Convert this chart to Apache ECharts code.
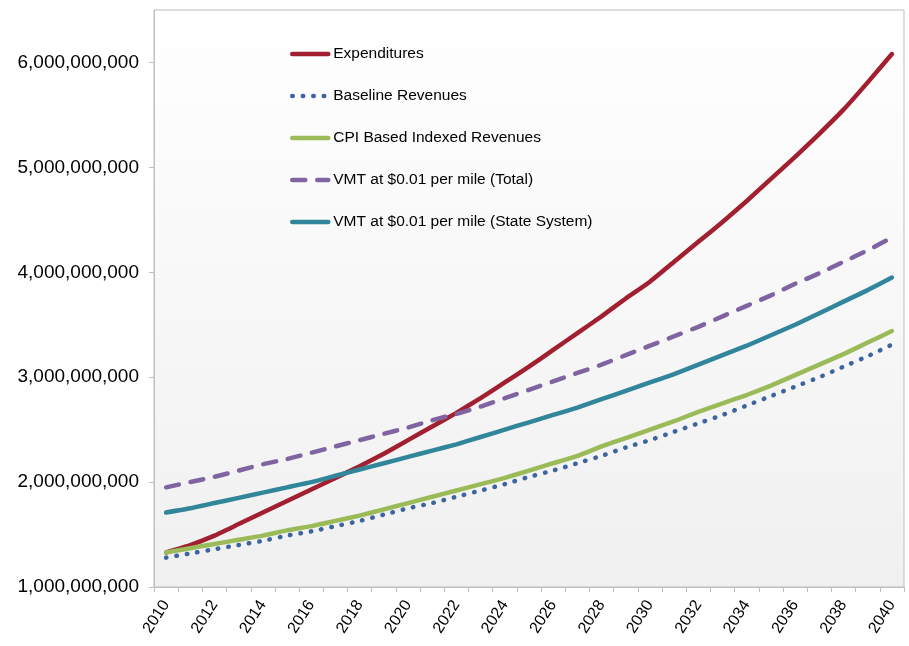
<!DOCTYPE html>
<html>
<head>
<meta charset="utf-8">
<script src="https://cdn.jsdelivr.net/npm/echarts@6/dist/echarts.min.js"></script>
<style>
  html, body { margin: 0; padding: 0; background: #fff; }
  #chart { width: 909px; height: 646px; }
</style>
</head>
<body>
<div id="chart"></div>
<script>
// years on the category axis
var years = [];
for (var y = 2010; y <= 2040; y++) years.push(String(y));

// values in billions of dollars
var expenditures = [1.33, 1.40, 1.49, 1.60, 1.71, 1.82, 1.93, 2.04, 2.15, 2.27, 2.40,
  2.53, 2.66, 2.80, 2.95, 3.10, 3.26, 3.42, 3.58, 3.75, 3.91,
  4.10, 4.29, 4.48, 4.68, 4.89, 5.10, 5.32, 5.55, 5.81, 6.08];
var baselineRevenues = [1.28, 1.32, 1.36, 1.40, 1.44, 1.49, 1.53, 1.58, 1.63, 1.69, 1.75,
  1.80, 1.86, 1.92, 1.98, 2.05, 2.11, 2.18, 2.25, 2.33, 2.40,
  2.48, 2.56, 2.64, 2.73, 2.82, 2.91, 3.00, 3.10, 3.20, 3.31];
var cpiRevenues = [1.33, 1.37, 1.41, 1.45, 1.49, 1.54, 1.58, 1.63, 1.68, 1.74, 1.80,
  1.86, 1.92, 1.98, 2.04, 2.11, 2.18, 2.25, 2.34, 2.42, 2.50,
  2.58, 2.67, 2.75, 2.83, 2.92, 3.02, 3.12, 3.22, 3.33, 3.44];
var vmtTotal = [1.95, 2.00, 2.05, 2.11, 2.17, 2.22, 2.28, 2.34, 2.40, 2.46, 2.52,
  2.59, 2.65, 2.72, 2.80, 2.88, 2.96, 3.04, 3.12, 3.21, 3.30,
  3.39, 3.48, 3.58, 3.68, 3.78, 3.89, 3.99, 4.10, 4.21, 4.33];
var vmtState = [1.71, 1.75, 1.80, 1.85, 1.90, 1.95, 2.00, 2.06, 2.12, 2.18, 2.24,
  2.30, 2.36, 2.43, 2.50, 2.57, 2.64, 2.71, 2.79, 2.87, 2.95,
  3.03, 3.12, 3.21, 3.30, 3.40, 3.50, 3.61, 3.72, 3.83, 3.95];

var chart = echarts.init(document.getElementById('chart'));

function commas(v) {
  return Math.round(v * 1e9).toString().replace(/\B(?=(\d{3})+(?!\d))/g, ',');
}

function line(name, data, color, type) {
  return {
    name: name,
    type: 'line',
    data: data,
    symbol: 'none',
    smooth: 0.15,
    lineStyle: { color: color, width: 4.5, type: type || 'solid', cap: 'round', join: 'round' },
    itemStyle: { color: color }
  };
}

var option = {
  animation: false,
  textStyle: { fontFamily: 'Liberation Sans, Arial, sans-serif' },
  grid: {
    left: 154, right: 5, top: 10, bottom: 59,
    show: true,
    borderColor: '#bfbfbf',
    borderWidth: 1,
    backgroundColor: new echarts.graphic.LinearGradient(0, 0, 0, 1, [
      { offset: 0, color: '#ffffff' },
      { offset: 1, color: '#f0f0f0' }
    ])
  },
  legend: {
    orient: 'vertical',
    left: 290,
    top: 46,
    padding: 0,
    itemWidth: 36,
    itemHeight: 16,
    itemGap: 26,
    itemStyle: { opacity: 0 },
    lineStyle: { width: 4.5, cap: 'round' },
    textStyle: { fontSize: 15.5, color: '#000' },
    data: ['Expenditures', 'Baseline Revenues', 'CPI Based Indexed Revenues',
      'VMT at $0.01 per mile (Total)', 'VMT at $0.01 per mile (State System)']
  },
  xAxis: {
    type: 'category',
    data: years,
    boundaryGap: true,
    axisLine: { lineStyle: { color: '#bfbfbf' } },
    axisTick: { show: true, interval: 0, length: 5, lineStyle: { color: '#bfbfbf' } },
    axisLabel: { interval: 1, rotate: 57, fontSize: 16, color: '#000', margin: 15 },
    splitLine: { show: false }
  },
  yAxis: {
    type: 'value',
    min: 1,
    max: 6.5,
    interval: 1,
    axisLine: { show: true, lineStyle: { color: '#bfbfbf' } },
    axisTick: { show: true, length: 5, lineStyle: { color: '#bfbfbf' } },
    axisLabel: {
      fontSize: 19, color: '#000', margin: 15, showMaxLabel: false,
      formatter: function (v) { return v % 1 === 0 ? commas(v) : ''; }
    },
    splitLine: { show: false }
  },
  series: [
    line('Expenditures', expenditures, '#a11f2e'),
    line('Baseline Revenues', baselineRevenues, '#3b64a0', [0.5, 10]),
    line('CPI Based Indexed Revenues', cpiRevenues, '#9bbb59'),
    line('VMT at $0.01 per mile (Total)', vmtTotal, '#8064a2', [13, 12]),
    line('VMT at $0.01 per mile (State System)', vmtState, '#31869b')
  ]
};

chart.setOption(option);
</script>
</body>
</html>
